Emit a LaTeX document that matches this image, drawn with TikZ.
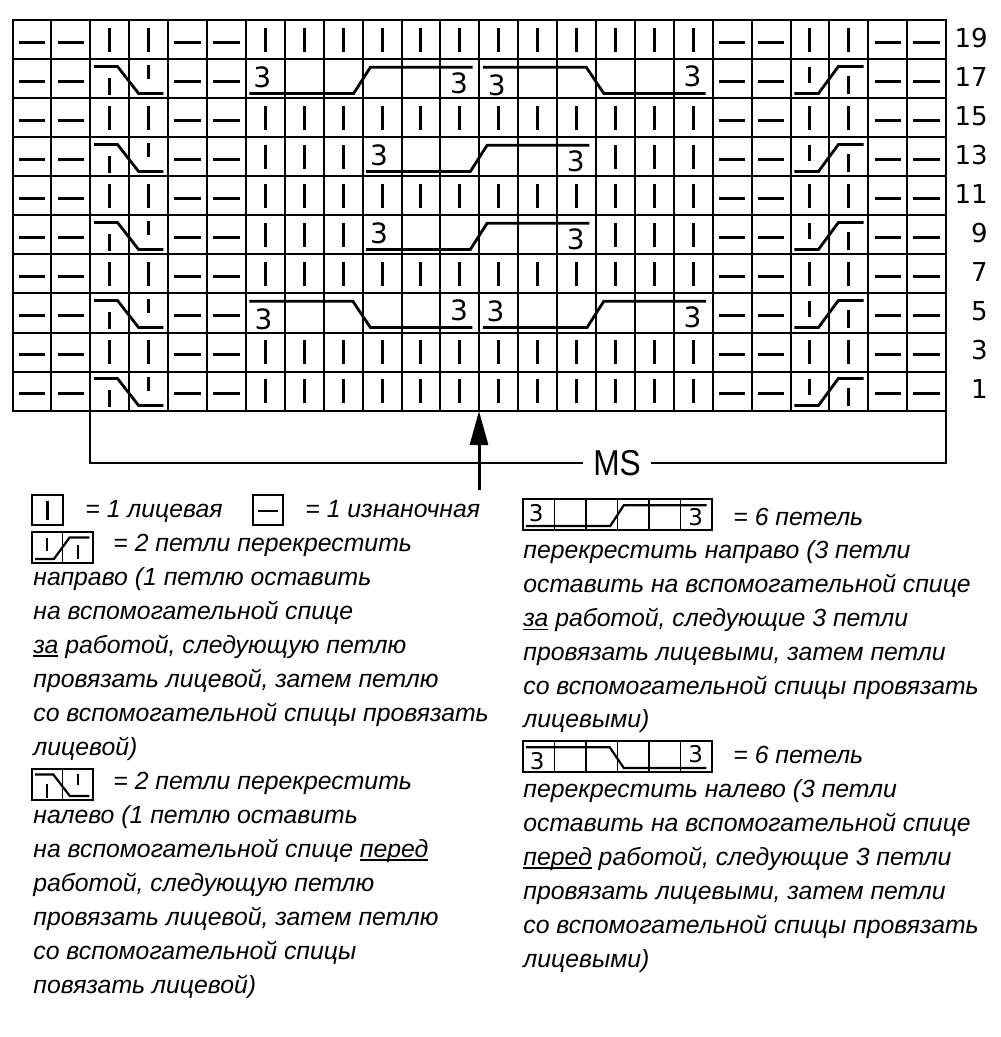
\documentclass[tikz,border=0pt]{standalone}
\usepackage{fontspec}
\usetikzlibrary{arrows.meta}
\setmainfont{Liberation Sans}
\newfontfamily\numfont{DejaVu Sans}
\newfontfamily\legfont{Liberation Sans}
\newfontfamily\msfont{Liberation Sans}[FakeStretch=0.88]
\newcommand{\threefont}{\numfont\fontsize{14pt}{14pt}\selectfont}
\newcommand{\ulword}[1]{\leavevmode\setbox0=\hbox{#1}\rlap{\rule[-1.8pt]{\wd0}{0.7pt}}\box0\relax}

\tikzset{
  gridline/.style={line width=1pt},
  kbar/.style={line width=1.5pt},
  cline/.style={line width=1.4pt, line join=miter},
  three/.style={inner sep=0pt, font=\threefont},
  rowlab/.style={inner sep=0pt, anchor=east, font=\numfont\fontsize{13pt}{13pt}\selectfont},
  legtext/.style={inner sep=0pt, anchor=base west, font=\legfont\itshape\fontsize{12.4pt}{12.4pt}\selectfont},
  lbox/.style={line width=0.8pt},
  bracket/.style={line width=1pt},
}

\newcommand{\kst}[2]{\draw[kbar] (#1+0.5,#2+0.2) -- (#1+0.5,#2+0.82);}
\newcommand{\pst}[2]{\draw[kbar] (#1+0.16,#2+0.57) -- (#1+0.84,#2+0.57);}
\newcommand{\lcr}[2]{%
  \draw[cline] (#1+0.1,#2+0.18) -- (#1+0.7,#2+0.18) -- (#1+1.24,#2+0.87) -- (#1+1.88,#2+0.87);
  \draw[kbar] (#1+0.5,#2+0.47) -- (#1+0.5,#2+0.92);
  \draw[kbar] (#1+1.5,#2+0.15) -- (#1+1.5,#2+0.5);}
\newcommand{\rcr}[2]{%
  \draw[cline] (#1+0.1,#2+0.87) -- (#1+0.72,#2+0.87) -- (#1+1.23,#2+0.18) -- (#1+1.88,#2+0.18);
  \draw[kbar] (#1+0.5,#2+0.2) -- (#1+0.5,#2+0.6);
  \draw[kbar] (#1+1.5,#2+0.42) -- (#1+1.5,#2+0.88);}
\newcommand{\cabR}[3]{%
  \draw[cline] (#1+0.09,#2+0.87) -- (#1+2.77,#2+0.87) -- (#1+3.2,#2+0.2) -- (#1+5.83,#2+0.2);
  \node[three] (#3a) at (#1+0.42,#2+0.46) {3};
  \node[three] (#3b) at (#1+5.48,#2+0.6) {3};}
\newcommand{\cabL}[3]{%
  \draw[cline] (#1+0.09,#2+0.2) -- (#1+2.75,#2+0.2) -- (#1+3.2,#2+0.87) -- (#1+5.82,#2+0.87);
  \node[three] (#3a) at (#1+0.45,#2+0.65) {3};
  \node[three] (#3b) at (#1+5.48,#2+0.42) {3};}

\begin{document}
\begin{tikzpicture}[x=0.5pt,y=-0.5pt]
\useasboundingbox (0,0) rectangle (1000,1037);
\fill[white] (0,0) rectangle (1000,1037);

% ---------------- chart ----------------
\begin{scope}[shift={(12.5,20.5)},x=19.45pt,y=-19.5pt]
  \foreach \i in {1,...,23} \draw[gridline] (\i,0) -- (\i,10);
  \foreach \j in {1,...,9} \draw[gridline] (0,\j) -- (24,\j);
  \draw[gridline] (0,0) rectangle (24,10);
  \foreach \r in {0,...,9} \foreach \c in {0,1,4,5,18,19,22,23} {\pst{\c}{\r}}
  \foreach \r in {0,2,4,6,8} {
    \foreach \c in {2,3,20,21} {\kst{\c}{\r}}
    \foreach \c in {6,...,17} {\kst{\c}{\r}}
  }
  \foreach \r in {1,3,5,7,9} {\lcr{2}{\r} \rcr{20}{\r}}
  \cabR{6}{1}{ca}
  \cabL{12}{1}{cb}
  \cabR{9}{3}{cc}
  \cabR{9}{5}{cd}
  \foreach \c in {6,7,8,15,16,17} {\kst{\c}{3} \kst{\c}{5}}
  \cabL{6}{7}{ce}
  \cabR{12}{7}{cf}
  \foreach \c in {6,...,17} {\kst{\c}{9}}
\end{scope}

% row labels
\foreach \n [count=\k from 0] in {19,17,15,13,11,9,7,5,3,1}
  \node[rowlab] (lab\n) at (988,{20.5+39*\k+18}) {\n};

% MS bracket
\coordinate (msl) at (89.8,410.5);
\coordinate (msr) at (945.7,410.5);
\draw[bracket] (msl) -- ++(0,52.5) -| (msr);
\node[fill=white, inner xsep=5pt, inner ysep=1pt, font=\msfont\fontsize{18pt}{18pt}\selectfont] (ms) at (617,463) {MS};

% arrow
\coordinate (atail) at (479,490);
\coordinate (atip) at (479,411);
\draw[line width=1.5pt, -{Triangle[length=17pt,width=9pt]}] (atail) -- (atip);

% ---------------- legend, left column ----------------
\draw[lbox] (32,495) rectangle (63,525);
\draw[line width=1.2pt] (47.5,501) -- (47.5,520);
\node[legtext] (t0a) at (85,517) {= 1 лицевая};
\draw[lbox] (253,495) rectangle (283,525);
\draw[line width=1.2pt] (258,511) -- (278,511);
\node[legtext] (t0b) at (305,517) {= 1 изнаночная};

\begin{scope}[shift={(32,532)},x=15.25pt,y=-15.5pt,kbar/.style={line width=1.1pt},cline/.style={line width=1.1pt}]
  \draw[lbox] (0,0) rectangle (2,1) (1,0) -- (1,1);
  \rcr{0}{0}
\end{scope}
\node[legtext] (t1) at (113,551) {= 2 петли перекрестить};
\node[legtext] (t2) at (33,585) {направо (1 петлю оставить};
\node[legtext] (t3) at (33,619) {на вспомогательной спице};
\node[legtext] (t4) at (33,653) {\ulword{за} работой, следующую петлю};
\node[legtext] (t5) at (33,687) {провязать лицевой, затем петлю};
\node[legtext] (t6) at (33,721) {со вспомогательной спицы провязать};
\node[legtext] (t7) at (33,755) {лицевой)};

\begin{scope}[shift={(32,769)},x=15.25pt,y=-15.5pt,kbar/.style={line width=1.1pt},cline/.style={line width=1.1pt}]
  \draw[lbox] (0,0) rectangle (2,1) (1,0) -- (1,1);
  \lcr{0}{0}
\end{scope}
\node[legtext] (t8) at (113,789) {= 2 петли перекрестить};
\node[legtext] (t9) at (33,823) {налево (1 петлю оставить};
\node[legtext] (t10) at (33,857) {на вспомогательной спице \ulword{перед}};
\node[legtext] (t11) at (33,891) {работой, следующую петлю};
\node[legtext] (t12) at (33,925) {провязать лицевой, затем петлю};
\node[legtext] (t13) at (33,959) {со вспомогательной спицы};
\node[legtext] (t14) at (33,993) {повязать лицевой)};

% ---------------- legend, right column ----------------
\begin{scope}[shift={(523,499)},x=15.75pt,y=-15.5pt,kbar/.style={line width=1.1pt},cline/.style={line width=1.1pt}]
  \renewcommand{\threefont}{\numfont\fontsize{11.5pt}{11.5pt}\selectfont}
  \draw[lbox] (0,0) rectangle (6,1);
  \foreach \i in {1,...,5} \draw[lbox] (\i,0) -- (\i,1);
  \cabR{0}{0}{lga}
\end{scope}
\node[legtext] (r0) at (733,525) {= 6 петель};
\node[legtext] (r1) at (523,558.8) {перекрестить направо (3 петли};
\node[legtext] (r2) at (523,592.6) {оставить на вспомогательной спице};
\node[legtext] (r3) at (523,626.4) {\ulword{за} работой, следующие 3 петли};
\node[legtext] (r4) at (523,660.2) {провязать лицевыми, затем петли};
\node[legtext] (r5) at (523,694) {со вспомогательной спицы провязать};
\node[legtext] (r6) at (523,727.8) {лицевыми)};

\begin{scope}[shift={(523,741)},x=15.75pt,y=-15.5pt,kbar/.style={line width=1.1pt},cline/.style={line width=1.1pt}]
  \renewcommand{\threefont}{\numfont\fontsize{11.5pt}{11.5pt}\selectfont}
  \draw[lbox] (0,0) rectangle (6,1);
  \foreach \i in {1,...,5} \draw[lbox] (\i,0) -- (\i,1);
  \cabL{0}{0}{lgb}
\end{scope}
\node[legtext] (r7) at (733,763) {= 6 петель};
\node[legtext] (r8) at (523,797) {перекрестить налево (3 петли};
\node[legtext] (r9) at (523,831) {оставить на вспомогательной спице};
\node[legtext] (r10) at (523,865) {\ulword{перед} работой, следующие 3 петли};
\node[legtext] (r11) at (523,899) {провязать лицевыми, затем петли};
\node[legtext] (r12) at (523,933) {со вспомогательной спицы провязать};
\node[legtext] (r13) at (523,967) {лицевыми)};
\end{tikzpicture}
\end{document}
